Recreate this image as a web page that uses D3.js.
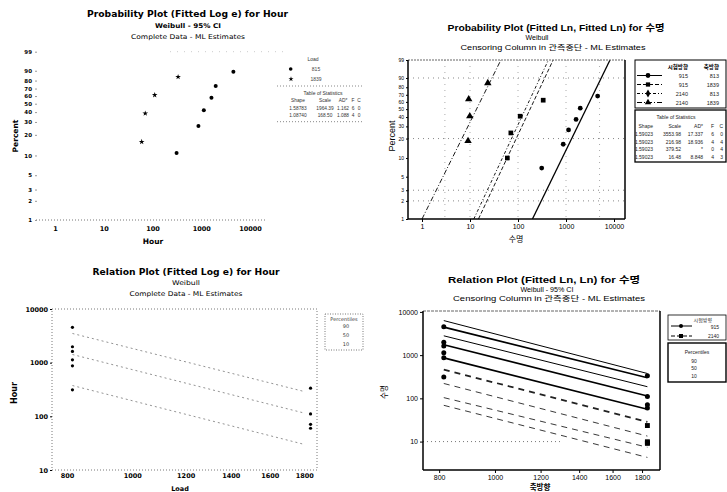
<!DOCTYPE html>
<html>
<head>
<meta charset="utf-8">
<script src="https://cdn.jsdelivr.net/npm/d3@7"></script>
<style>
  body { margin: 0; background: #fff; }
</style>
</head>
<body>
<svg id="chart" width="727" height="492"></svg>
<script>
const TAHOMA = "'DejaVu Sans', Verdana, 'Noto Sans CJK KR', sans-serif";
const ARIAL = "'Liberation Sans', Arial, 'Noto Sans CJK KR', sans-serif";

// ---- 데이터 ----
// Load 815 / 1839 에서의 Hour (완전 데이터)
const hours815 = [312, 875, 1130, 1620, 1980, 4560];
const pct815 = [10.9, 26.6, 42.2, 57.8, 73.4, 89.1];
const hours1839 = [60, 71, 111, 335];
const pct1839 = [15.9, 38.6, 61.4, 84.1];

// 수명 확률도 (관측중단 포함)
const km915_813 = [6.9, 16.4, 26.7, 37.3, 51.3, 68.3];
const km915_1839 = [10.0, 24.2, 41.0, 62.4];
const hours2140_1839 = [9.1, 9.9, 9.4, 23.5];
const km2140_1839 = [18.4, 41.0, 63.8, 84.9];

// 적합선: 1% 와 99% 에서의 수명
const fitEnds = [1, 99];
const fit915_813 = [200, 8260];
const fit915_1839 = [15, 540];
const fit2140_813 = [12, 430];
const fit2140_1839 = [1.0, 44];

// 관계도 (Hour) 백분위선
const relLoads = [815, 1800];
const rel90 = [3500, 290];
const rel50 = [1420, 115];
const rel10 = [375, 30];

// 관계도 (수명) 선
const relLoads2 = [815, 1839];
const relSolid = [[6300, 376], [4450, 300], [2800, 186], [1740, 113], [864, 56]];
const relSolidWidth = [1, 1.6, 1, 1.6, 1.6];
const relDashed = [[464, 28.5], [221, 13.4], [104, 7.4], [69, 4.3]];

// 눈금
const pctTicks = [1, 2, 3, 5, 10, 20, 30, 40, 50, 60, 70, 80, 90, 99];
const hourTicks = [1, 10, 100, 1000, 10000];
const loadTicks = [800, 1000, 1200, 1400, 1600, 1800];
const lifeTicks = [10, 100, 1000, 10000];

const svg = d3.select('#chart');
svg.append('rect').attr('width', 727).attr('height', 492).attr('fill', '#fff');

const wb = p => Math.log(-Math.log(1 - p / 100));

function addText(g, x, y, txt, opt = {}) {
    const t = g.append('text')
        .attr('x', x).attr('y', y)
        .attr('font-family', opt.font || ARIAL)
        .attr('font-size', opt.size || 7)
        .attr('font-weight', opt.bold ? 'bold' : 'normal')
        .attr('text-anchor', opt.anchor || 'middle')
        .attr('dominant-baseline', 'central')
        .attr('fill', opt.fill || '#000')
        .text(txt);
    if (opt.len) t.attr('textLength', opt.len).attr('lengthAdjust', 'spacingAndGlyphs');
    if (opt.rotate) t.attr('transform', `rotate(-90,${x},${y})`);
    return t;
}

function styleAxis(g, font, size, weight) {
    g.select('.domain').remove();
    g.attr('font-family', font).attr('font-size', size);
    g.selectAll('text').attr('font-weight', weight || 'normal').attr('fill', '#000');
    g.selectAll('line').attr('stroke', '#000');
}

// =========================================================
// 1) Probability Plot (Fitted Log e) for Hour
// =========================================================
const g1 = svg.append('g');
const x1 = d3.scaleLog().domain([1, 10000]).range([55, 250]);
const y1 = d3.scaleLinear().domain([wb(1), wb(99)]).range([220, 51.7]);

addText(g1, 187.5, 14, 'Probability Plot (Fitted Log e) for Hour', { font: TAHOMA, size: 9, bold: true, len: 201 });
addText(g1, 188, 25.7, 'Weibull - 95% CI', { font: TAHOMA, size: 6.5, bold: true, len: 66 });
addText(g1, 188, 37.3, 'Complete Data - ML Estimates', { font: TAHOMA, size: 6.5, len: 114 });

g1.append('line').attr('x1', 36).attr('x2', 265).attr('y1', 220).attr('y2', 220)
    .attr('stroke', '#777').attr('stroke-dasharray', '1,2');
g1.append('line').attr('x1', 170).attr('x2', 285).attr('y1', 51.7).attr('y2', 51.7)
    .attr('stroke', '#ccc').attr('stroke-dasharray', '1,6');

const ax1 = g1.append('g').attr('transform', 'translate(37,0)')
    .call(d3.axisLeft(y1).tickValues(pctTicks.map(wb)).tickFormat((d, i) => pctTicks[i]).tickSize(2).tickPadding(3));
styleAxis(ax1, TAHOMA, 5.5, 'bold');
ax1.selectAll('line').attr('stroke', '#999');

const bx1 = g1.append('g').attr('transform', 'translate(0,221)')
    .call(d3.axisBottom(x1).tickValues(hourTicks).tickFormat(d3.format('d')).tickSize(0).tickPadding(5));
styleAxis(bx1, TAHOMA, 6.5, 'bold');

addText(g1, 153, 241, 'Hour', { font: TAHOMA, size: 7.5, bold: true });
addText(g1, 15, 136, 'Percent', { font: TAHOMA, size: 7.5, bold: true, rotate: true });

g1.selectAll('.p815').data(hours815).join('circle')
    .attr('cx', d => x1(d)).attr('cy', (d, i) => y1(wb(pct815[i])))
    .attr('r', 2).attr('fill', '#000');
g1.selectAll('.p1839').data(hours1839).join('path')
    .attr('transform', (d, i) => `translate(${x1(d)},${y1(wb(pct1839[i]))})`)
    .attr('d', d3.symbol(d3.symbolStar, 10)).attr('fill', '#000');

// 범례 / 통계표
addText(g1, 313, 59, 'Load', { size: 5 , fill: '#333'});
g1.append('circle').attr('cx', 290.7).attr('cy', 69).attr('r', 1.8).attr('fill', '#000');
addText(g1, 316, 68.5, '815', { size: 5, fill: '#444' });
g1.append('path').attr('transform', 'translate(291,79)').attr('d', d3.symbol(d3.symbolStar, 8)).attr('fill', '#000');
addText(g1, 316, 79, '1839', { size: 5, fill: '#444' });
g1.append('line').attr('x1', 277).attr('x2', 362).attr('y1', 86).attr('y2', 86)
    .attr('stroke', '#888').attr('stroke-dasharray', '1,2');
addText(g1, 323, 93.3, 'Table of Statistics', { size: 5, fill: '#333' });
[['Shape', 298], ['Scale', 325], ['AD*', 343], ['F', 353], ['C', 359]].forEach(([t, x]) =>
    addText(g1, x, 100.7, t, { size: 4.8, fill: '#333' }));
[['1.58783', 1964.39, '1.162', 6, 0], ['1.08740', 168.50, '1.088', 4, 0]].forEach((row, r) => {
    const yy = 108.3 + r * 7;
    addText(g1, 298, yy, row[0], { size: 4.8, fill: '#333' });
    addText(g1, 325, yy, row[1].toFixed(2), { size: 4.8, fill: '#333' });
    addText(g1, 343, yy, row[2], { size: 4.8, fill: '#333' });
    addText(g1, 353, yy, row[3], { size: 4.8, fill: '#333' });
    addText(g1, 359, yy, row[4], { size: 4.8, fill: '#333' });
});
g1.append('line').attr('x1', 277).attr('x2', 362).attr('y1', 121.7).attr('y2', 121.7)
    .attr('stroke', '#888').attr('stroke-dasharray', '1,2');

// =========================================================
// 2) Probability Plot (Fitted Ln, Fitted Ln) for 수명
// =========================================================
const g2 = svg.append('g');
const f2 = { left: 408, right: 625, top: 60, bottom: 219 };
const x2 = d3.scaleLog().domain([1, 10000]).range([422, 614]);
const y2 = d3.scaleLinear().domain([wb(1), wb(99)]).range([f2.bottom, f2.top]);

addText(g2, 556, 28, 'Probability Plot (Fitted Ln, Fitted Ln) for 수명', { size: 9, bold: true, len: 217 });
addText(g2, 537, 37.5, 'Weibull', { size: 7 });
addText(g2, 553, 47, 'Censoring Column in 관측중단 - ML Estimates', { size: 7, len: 185 });

g2.append('clipPath').attr('id', 'clip2').append('rect')
    .attr('x', f2.left).attr('y', f2.top).attr('width', f2.right - f2.left).attr('height', f2.bottom - f2.top);

// 점선 격자 (스캔에서 보이는 부분)
[90, 20, 3, 2].forEach(p => g2.append('line')
    .attr('x1', f2.left).attr('x2', f2.right).attr('y1', y2(wb(p))).attr('y2', y2(wb(p)))
    .attr('stroke', '#888').attr('stroke-dasharray', '1,4'));
[3, 10, 100, 1000, 5000].forEach(v => g2.append('line')
    .attr('x1', x2(v)).attr('x2', x2(v)).attr('y1', f2.top).attr('y2', f2.bottom)
    .attr('stroke', '#aaa').attr('stroke-dasharray', '1,5'));

const fitLine2 = d3.line().x(d => x2(d[0])).y(d => y2(wb(d[1])));
const fits2 = [
    { v: fit915_813, dash: null, w: 1.3 },
    { v: fit915_1839, dash: '4,2', w: 0.9 },
    { v: fit2140_813, dash: '3,2,1,2', w: 0.9 },
    { v: fit2140_1839, dash: '5,2,1,2', w: 0.9 }
];
fits2.forEach(f => g2.append('path')
    .datum(fitEnds.map((p, i) => [f.v[i], p]))
    .attr('d', fitLine2).attr('fill', 'none').attr('stroke', '#000')
    .attr('stroke-width', f.w).attr('stroke-dasharray', f.dash)
    .attr('clip-path', 'url(#clip2)'));

g2.selectAll('.c2').data(hours815).join('circle')
    .attr('cx', d => x2(d)).attr('cy', (d, i) => y2(wb(km915_813[i])))
    .attr('r', 2.4).attr('fill', '#000');
g2.selectAll('.s2').data(hours1839).join('path')
    .attr('transform', (d, i) => `translate(${x2(d)},${y2(wb(km915_1839[i]))})`)
    .attr('d', d3.symbol(d3.symbolSquare, 22)).attr('fill', '#000');
g2.selectAll('.t2').data(hours2140_1839).join('path')
    .attr('transform', (d, i) => `translate(${x2(d)},${y2(wb(km2140_1839[i]))})`)
    .attr('d', d3.symbol(d3.symbolTriangle, 24)).attr('fill', '#000');

// 테두리
g2.append('line').attr('x1', f2.left).attr('x2', f2.right).attr('y1', f2.top).attr('y2', f2.top)
    .attr('stroke', '#666').attr('stroke-width', 1).attr('stroke-dasharray', '2,1');
[[f2.left, f2.top, f2.left, f2.bottom], [f2.left, f2.bottom, f2.right, f2.bottom], [f2.right, f2.top, f2.right, f2.bottom]]
    .forEach(([a, b, c, d]) => g2.append('line').attr('x1', a).attr('y1', b).attr('x2', c).attr('y2', d)
        .attr('stroke', '#000').attr('stroke-width', 1.5));

const ax2 = g2.append('g').attr('transform', `translate(${f2.left},0)`)
    .call(d3.axisLeft(y2).tickValues(pctTicks.map(wb)).tickFormat((d, i) => pctTicks[i]).tickSize(2).tickPadding(2));
styleAxis(ax2, ARIAL, 5, 'normal');
const bx2 = g2.append('g').attr('transform', `translate(0,${f2.bottom})`)
    .call(d3.axisBottom(x2).tickValues(hourTicks).tickFormat(d3.format('d')).tickSize(3).tickPadding(2));
styleAxis(bx2, ARIAL, 7, 'normal');

addText(g2, 516, 239, '수명', { size: 8 });
addText(g2, 392, 136, 'Percent', { size: 9, rotate: true });

// 범례
const lg2 = g2.append('g');
lg2.append('rect').attr('x', 635).attr('y', 60).attr('width', 91).attr('height', 48)
    .attr('fill', '#fff').attr('stroke', '#000').attr('stroke-width', 1);
lg2.append('rect').attr('x', 635).attr('y', 110).attr('width', 91).attr('height', 52)
    .attr('fill', '#fff').attr('stroke', '#000').attr('stroke-width', 1.3);
addText(lg2, 688, 66.5, '시험방향', { size: 5.5, anchor: 'end', bold: true });
addText(lg2, 719, 66.5, '축방향', { size: 5.5, anchor: 'end', bold: true });
const legRows2 = [
    { a: '915', b: '813', sym: d3.symbolCircle, dash: null },
    { a: '915', b: '1839', sym: d3.symbolSquare, dash: '4,2' },
    { a: '2140', b: '813', sym: d3.symbolDiamond, dash: '3,2,1,2' },
    { a: '2140', b: '1839', sym: d3.symbolTriangle, dash: '5,2,1,2' }
];
legRows2.forEach((r, i) => {
    const yy = 75.5 + i * 9;
    lg2.append('line').attr('x1', 637).attr('x2', 662).attr('y1', yy).attr('y2', yy)
        .attr('stroke', '#000').attr('stroke-width', 1).attr('stroke-dasharray', r.dash);
    lg2.append('path').attr('transform', `translate(648,${yy})`).attr('d', d3.symbol(r.sym, 18)).attr('fill', '#000');
    addText(lg2, 688, yy, r.a, { size: 5.5, anchor: 'end', fill: '#222' });
    addText(lg2, 719, yy, r.b, { size: 5.5, anchor: 'end', fill: '#222' });
});
addText(lg2, 676, 116.5, 'Table of Statistics', { size: 5, fill: '#222' });
[['Shape', 653], ['Scale', 681], ['AD*', 703], ['F', 714], ['C', 723]].forEach(([t, x]) =>
    addText(lg2, x, 125.5, t, { size: 5, anchor: 'end', fill: '#222' }));
const stats2 = [
    ['1.59023', '3553.98', '17.337', '6', '0'],
    ['1.59023', '216.98', '18.936', '4', '4'],
    ['1.59023', '379.52', '*', '0', '4'],
    ['1.59023', '16.48', '8.848', '4', '3']
];
stats2.forEach((row, r) => {
    const yy = 134 + r * 7.7;
    [653, 681, 703, 714, 723].forEach((x, c) => addText(lg2, x, yy, row[c], { size: 5, anchor: 'end', fill: '#222' }));
});

// =========================================================
// 3) Relation Plot (Fitted Log e) for Hour
// =========================================================
const g3 = svg.append('g');
const f3 = { left: 52, right: 317, top: 309, bottom: 470 };
const x3 = d3.scaleLog().domain([760, 1880]).range([f3.left, f3.right]);
const y3 = d3.scaleLog().domain([10, 10000]).range([f3.bottom, f3.top]);

addText(g3, 186, 272.3, 'Relation Plot (Fitted Log e) for Hour', { font: TAHOMA, size: 9, bold: true, len: 187 });
addText(g3, 186, 282.7, 'Weibull', { font: TAHOMA, size: 6.5, len: 28 });
addText(g3, 186, 294, 'Complete Data - ML Estimates', { font: TAHOMA, size: 6.5, len: 113 });

g3.append('rect').attr('x', f3.left).attr('y', f3.top)
    .attr('width', f3.right - f3.left).attr('height', f3.bottom - f3.top)
    .attr('fill', 'none').attr('stroke', '#555').attr('stroke-width', 0.8).attr('stroke-dasharray', '1,2');

const relLine3 = d3.line().x(d => x3(d[0])).y(d => y3(d[1]));
[rel90, rel50, rel10].forEach(v => g3.append('path')
    .datum(relLoads.map((l, i) => [l, v[i]]))
    .attr('d', relLine3).attr('fill', 'none').attr('stroke', '#777')
    .attr('stroke-width', 0.8).attr('stroke-dasharray', '2,3'));

g3.selectAll('.r815').data(hours815).join('circle')
    .attr('cx', x3(815)).attr('cy', d => y3(d)).attr('r', 1.6).attr('fill', '#000');
g3.selectAll('.r1839').data(hours1839).join('circle')
    .attr('cx', x3(1839)).attr('cy', d => y3(d)).attr('r', 1.6).attr('fill', '#000');

const ax3 = g3.append('g').attr('transform', `translate(${f3.left},0)`)
    .call(d3.axisLeft(y3).tickValues(lifeTicks).tickFormat(d3.format('d')).tickSize(2).tickPadding(2));
styleAxis(ax3, TAHOMA, 6.5, 'bold');
const bx3 = g3.append('g').attr('transform', `translate(0,${f3.bottom})`)
    .call(d3.axisBottom(x3).tickValues(loadTicks).tickFormat(d3.format('d')).tickSize(0).tickPadding(3));
styleAxis(bx3, TAHOMA, 6.5, 'bold');

addText(g3, 180, 488.5, 'Load', { font: TAHOMA, size: 6.5, bold: true });
addText(g3, 14, 393, 'Hour', { font: TAHOMA, size: 8, bold: true, rotate: true });

g3.append('rect').attr('x', 325).attr('y', 314).attr('width', 38).attr('height', 36)
    .attr('fill', '#fff').attr('stroke', '#555').attr('stroke-width', 0.8).attr('stroke-dasharray', '1,1.5');
addText(g3, 344, 319, 'Percentiles', { font: TAHOMA, size: 5, fill: '#333' });
['90', '50', '10'].forEach((t, i) => addText(g3, 346, 326 + i * 9, t, { font: TAHOMA, size: 5, fill: '#333' }));

// =========================================================
// 4) Relation Plot (Fitted Ln, Ln) for 수명
// =========================================================
const g4 = svg.append('g');
const f4 = { left: 423, right: 660, top: 311, bottom: 470 };
const x4 = d3.scaleLog().domain([750, 1934]).range([f4.left, f4.right]);
const y4 = d3.scaleLog().domain([2.2, 10500]).range([f4.bottom, f4.top]);

addText(g4, 544, 280, 'Relation Plot (Fitted Ln, Ln) for 수명', { size: 9, bold: true, len: 192 });
addText(g4, 547, 289, 'Weibull - 95% CI', { size: 7, len: 53 });
addText(g4, 549, 298, 'Censoring Column in 관측중단 - ML Estimates', { size: 7, len: 192 });

g4.append('line').attr('x1', f4.left).attr('x2', 560).attr('y1', y4(10)).attr('y2', y4(10))
    .attr('stroke', '#777').attr('stroke-dasharray', '1,3');

const relLine4 = d3.line().x(d => x4(d[0])).y(d => y4(d[1]));
relSolid.forEach((v, k) => g4.append('path')
    .datum(relLoads2.map((l, i) => [l, v[i]]))
    .attr('d', relLine4).attr('fill', 'none').attr('stroke', '#000').attr('stroke-width', relSolidWidth[k]));
relDashed.forEach((v, k) => g4.append('path')
    .datum(relLoads2.map((l, i) => [l, v[i]]))
    .attr('d', relLine4).attr('fill', 'none').attr('stroke', '#222')
    .attr('stroke-width', k === 0 ? 1.8 : 0.9).attr('stroke-dasharray', '6,5'));

g4.selectAll('.q815').data(hours815).join('circle')
    .attr('cx', x4(815)).attr('cy', d => y4(d)).attr('r', 2.5).attr('fill', '#000');
g4.selectAll('.q1839').data(hours1839).join('circle')
    .attr('cx', x4(1839)).attr('cy', d => y4(d)).attr('r', 2.5).attr('fill', '#000');
g4.selectAll('.sq1839').data(hours2140_1839).join('path')
    .attr('transform', d => `translate(${x4(1839)},${y4(d)})`)
    .attr('d', d3.symbol(d3.symbolSquare, 24)).attr('fill', '#000');

g4.append('line').attr('x1', f4.left).attr('x2', f4.right).attr('y1', f4.top).attr('y2', f4.top)
    .attr('stroke', '#666').attr('stroke-width', 1).attr('stroke-dasharray', '3,1');
[[f4.left, f4.top, f4.left, f4.bottom], [f4.left, f4.bottom, f4.right, f4.bottom], [f4.right, f4.top, f4.right, f4.bottom]]
    .forEach(([a, b, c, d]) => g4.append('line').attr('x1', a).attr('y1', b).attr('x2', c).attr('y2', d)
        .attr('stroke', '#000').attr('stroke-width', 1.5));

const ax4 = g4.append('g').attr('transform', `translate(${f4.left},0)`)
    .call(d3.axisLeft(y4).tickValues(lifeTicks).tickFormat(d3.format('d')).tickSize(3).tickPadding(2));
styleAxis(ax4, ARIAL, 7, 'normal');
const bx4 = g4.append('g').attr('transform', `translate(0,${f4.bottom})`)
    .call(d3.axisBottom(x4).tickValues(loadTicks).tickFormat(d3.format('d')).tickSize(3).tickPadding(2));
styleAxis(bx4, ARIAL, 7, 'normal');

addText(g4, 540, 487, '축방향', { size: 7.5, bold: true });
addText(g4, 384, 392, '수명', { size: 7.5, rotate: true });

const lg4 = g4.append('g');
lg4.append('rect').attr('x', 668).attr('y', 315).attr('width', 58).attr('height', 25)
    .attr('fill', '#fff').attr('stroke', '#000').attr('stroke-width', 0.8);
lg4.append('rect').attr('x', 668).attr('y', 343).attr('width', 58).attr('height', 39)
    .attr('fill', '#fff').attr('stroke', '#000').attr('stroke-width', 1.4);
addText(lg4, 712, 319.5, '시험방향', { size: 5, anchor: 'end', fill: '#222' });
lg4.append('line').attr('x1', 671).attr('x2', 692).attr('y1', 326).attr('y2', 326).attr('stroke', '#000');
lg4.append('circle').attr('cx', 681).attr('cy', 326).attr('r', 2).attr('fill', '#000');
addText(lg4, 719, 326.5, '915', { size: 5, anchor: 'end', fill: '#222' });
lg4.append('line').attr('x1', 671).attr('x2', 692).attr('y1', 336).attr('y2', 336)
    .attr('stroke', '#000').attr('stroke-dasharray', '4,2');
lg4.append('path').attr('transform', 'translate(681,336)').attr('d', d3.symbol(d3.symbolSquare, 16)).attr('fill', '#000');
addText(lg4, 719, 336, '2140', { size: 5, anchor: 'end', fill: '#222' });
addText(lg4, 697, 352, 'Percentiles', { size: 5, fill: '#222' });
['90', '50', '10'].forEach((t, i) => addText(lg4, 694, 360.5 + i * 7.5, t, { size: 5, fill: '#222' }));
</script>
</body>
</html>
